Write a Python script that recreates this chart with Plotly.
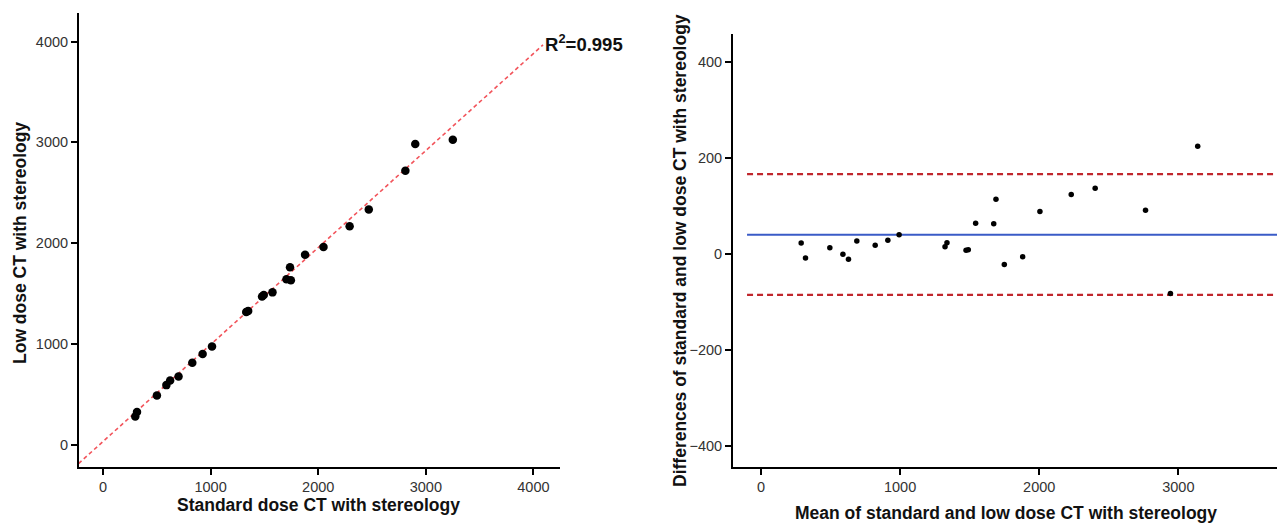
import plotly.graph_objects as go

# ---- Data ----
# Left panel: standard dose vs low dose
standard_dose = [300, 316, 501, 589, 624, 702, 830, 926, 1013, 1331, 1349, 1478,
                 1494, 1575, 1705, 1746, 1738, 1878, 2049, 2292, 2470, 2810, 3251, 2902]
low_dose = [278, 324, 488, 590, 635, 675, 812, 898, 973, 1315, 1325, 1470,
            1485, 1511, 1642, 1632, 1760, 1884, 1961, 2168, 2334, 2719, 3027, 2984]
# regression line (ends)
reg_x = [-227, 4089]
reg_y = [-189, 3968]
r2_text = "R<sup>2</sup>=0.995"

# Right panel: Bland-Altman
ba_mean = [289, 320, 495, 589, 629, 689, 821, 912, 993, 1323, 1337, 1474,
           1490, 1543, 1673, 1689, 1749, 1881, 2005, 2230, 2402, 2764, 3139, 2943]
ba_diff = [22.8, -8.3, 13.1, -0.7, -11, 27, 18, 28.4, 40, 15.2, 23.5, 7.6,
           9, 64, 63, 114, -22, -5.5, 88.6, 124, 137, 91, 224, -82]
mean_diff = 40
loa_upper = 166
loa_lower = -85
line_x = [-100, 3709]

left_xticks = [0, 1000, 2000, 3000, 4000]
left_yticks = [0, 1000, 2000, 3000, 4000]
right_xticks = [0, 1000, 2000, 3000]
right_yticks = [-400, -200, 0, 200, 400]

FONT = "Liberation Sans, Arial, sans-serif"
W, H = 1277, 523

fig = go.Figure()

# Left panel
fig.add_trace(go.Scatter(x=reg_x, y=reg_y, mode="lines",
                         line=dict(color="#F2545B", width=1.6, dash="4px,3px"),
                         xaxis="x", yaxis="y", showlegend=False, hoverinfo="skip"))
fig.add_trace(go.Scatter(x=standard_dose, y=low_dose, mode="markers",
                         marker=dict(color="black", size=8.5),
                         xaxis="x", yaxis="y", showlegend=False))

# Right panel
fig.add_trace(go.Scatter(x=line_x, y=[loa_upper, loa_upper], mode="lines",
                         line=dict(color="#C0262C", width=2.2, dash="6px,4px"),
                         xaxis="x2", yaxis="y2", showlegend=False, hoverinfo="skip"))
fig.add_trace(go.Scatter(x=line_x, y=[loa_lower, loa_lower], mode="lines",
                         line=dict(color="#C0262C", width=2.2, dash="6px,4px"),
                         xaxis="x2", yaxis="y2", showlegend=False, hoverinfo="skip"))
fig.add_trace(go.Scatter(x=line_x, y=[mean_diff, mean_diff], mode="lines",
                         line=dict(color="#3A5BC7", width=2),
                         xaxis="x2", yaxis="y2", showlegend=False, hoverinfo="skip"))
fig.add_trace(go.Scatter(x=ba_mean, y=ba_diff, mode="markers",
                         marker=dict(color="black", size=5.5),
                         xaxis="x2", yaxis="y2", showlegend=False))

axis_common = dict(showline=True, linecolor="black", linewidth=2, showgrid=False,
                   zeroline=False, ticks="outside", ticklen=6, tickwidth=2,
                   tickcolor="black", tickfont=dict(family=FONT, size=14.5, color="#333333"))

fig.update_layout(
    width=W, height=H,
    margin=dict(l=0, r=0, t=0, b=0),
    paper_bgcolor="white", plot_bgcolor="white",
    xaxis=dict(domain=[79 / W, 560 / W], range=[-223, 4247], anchor="y",
               tickvals=left_xticks, **axis_common),
    yaxis=dict(domain=[(H - 467) / H, (H - 13) / H], range=[-223, 4285], anchor="x",
               tickvals=left_yticks, **axis_common),
    xaxis2=dict(domain=[733 / W, 1.0], range=[-201, 3709], anchor="y2",
                tickvals=right_xticks, **axis_common),
    yaxis2=dict(domain=[(H - 467) / H, (H - 34) / H], range=[-443, 457.6], anchor="x2",
                tickvals=right_yticks, **axis_common),
)

title_font = dict(family=FONT, size=17.5, color="#111111")
annos = [
    dict(text="<b>" + r2_text + "</b>", x=543 / W, y=(H - 43) / H, xanchor="left",
         yanchor="middle", font=dict(family=FONT, size=18.5, color="#111111")),
    dict(text="<b>Low dose CT with stereology</b>", x=20 / W, y=(H - 243) / H,
         textangle=-90, xanchor="center", yanchor="middle", font=title_font),
    dict(text="<b>Standard dose CT with stereology</b>", x=318 / W, y=(H - 505) / H,
         xanchor="center", yanchor="middle", font=title_font),
    dict(text="<b>Differences of standard and low dose CT with stereology</b>",
         x=680 / W, y=(H - 251) / H, textangle=-90, xanchor="center", yanchor="middle",
         font=title_font),
    dict(text="<b>Mean of standard and low dose CT with stereology</b>", x=1006 / W,
         y=(H - 513) / H, xanchor="center", yanchor="middle", font=title_font),
]
for a in annos:
    a.update(xref="paper", yref="paper", showarrow=False)
fig.update_layout(annotations=annos)

fig.write_html("out.html", config={"displayModeBar": False},
               post_script="document.body.style.margin='0';document.body.style.overflow='hidden';")
